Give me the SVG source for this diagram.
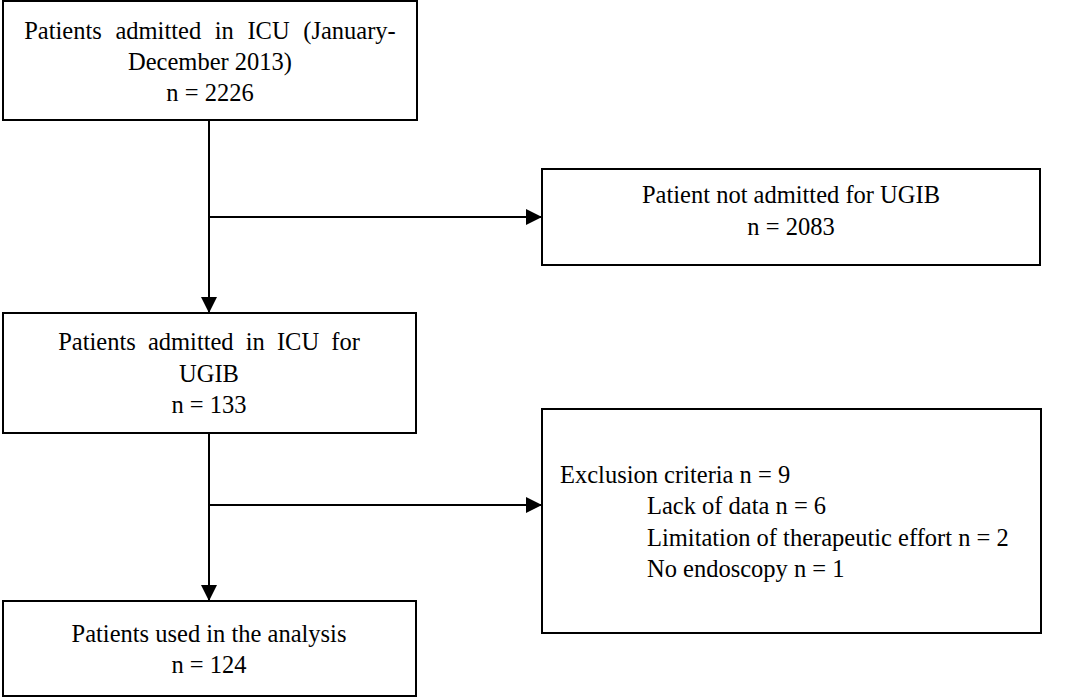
<svg xmlns="http://www.w3.org/2000/svg" width="1085" height="697" viewBox="0 0 1085 697">
<defs>
<marker id="arr" markerWidth="8" markerHeight="8" refX="8" refY="4" orient="auto" markerUnits="strokeWidth">
<path d="M0,0 L8,4 L0,8 Z" fill="#000"/>
</marker>
<style>
.box{fill:#fff;stroke:#000;stroke-width:2}
.t{font-family:"Liberation Serif","Times New Roman",serif;font-size:24.5px;fill:#000}
.c{text-anchor:middle}
.ln{fill:none;stroke:#000;stroke-width:2}
</style>
</defs>
<rect width="1085" height="697" fill="#fff"/>
<g id="connectors">
<line class="ln" x1="209" y1="120" x2="209" y2="313" marker-end="url(#arr)"/>
<line class="ln" x1="209" y1="217" x2="542" y2="217" marker-end="url(#arr)"/>
<line class="ln" x1="209" y1="433" x2="209" y2="601" marker-end="url(#arr)"/>
<line class="ln" x1="209" y1="505" x2="542" y2="505" marker-end="url(#arr)"/>
</g>
<g id="n1">
<rect class="box" x="3" y="1" width="414" height="119"/>
<text class="t c" x="210" y="39" word-spacing="7.5">Patients admitted in ICU (January-</text>
<text class="t c" x="210" y="70">December 2013)</text>
<text class="t c" x="210" y="101">n = 2226</text>
</g>
<g id="n2">
<rect class="box" x="542" y="169" width="498" height="96"/>
<text class="t c" x="791" y="203">Patient not admitted for UGIB</text>
<text class="t c" x="791" y="235">n = 2083</text>
</g>
<g id="n3">
<rect class="box" x="3" y="313" width="413" height="120"/>
<text class="t c" x="209" y="350" word-spacing="6">Patients admitted in ICU for</text>
<text class="t c" x="209" y="382">UGIB</text>
<text class="t c" x="209" y="413">n = 133</text>
</g>
<g id="n4">
<rect class="box" x="542" y="409" width="499" height="224"/>
<text class="t" x="560" y="483">Exclusion criteria n = 9</text>
<text class="t" x="647" y="514">Lack of data n = 6</text>
<text class="t" x="647" y="546">Limitation of therapeutic effort n = 2</text>
<text class="t" x="647" y="577">No endoscopy n = 1</text>
</g>
<g id="n5">
<rect class="box" x="3" y="601" width="413" height="95"/>
<text class="t c" x="209" y="642">Patients used in the analysis</text>
<text class="t c" x="209" y="673">n = 124</text>
</g>
</svg>
